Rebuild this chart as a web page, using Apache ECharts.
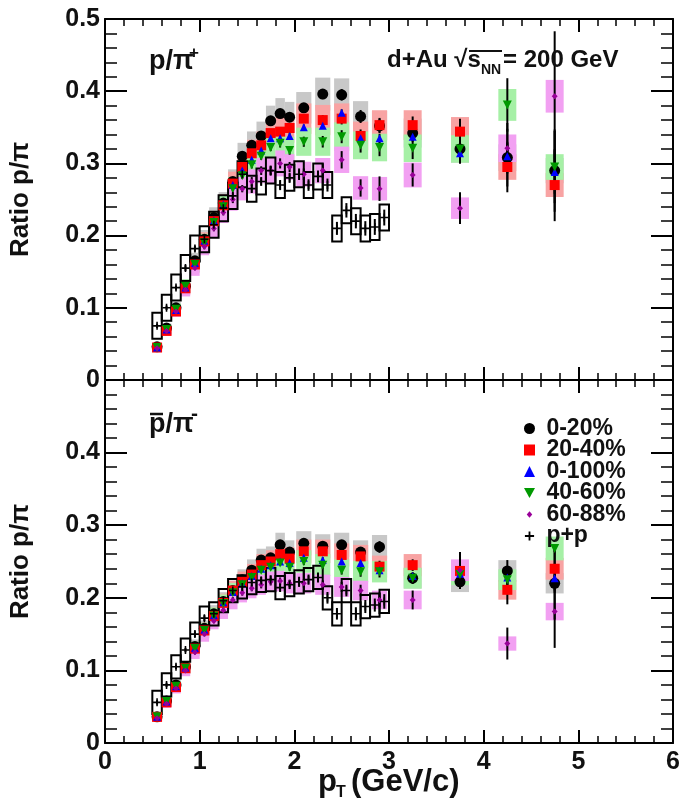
<!DOCTYPE html>
<html><head><meta charset="utf-8">
<script src="https://cdn.jsdelivr.net/npm/echarts@6.0.0/dist/echarts.min.js"></script>
<style>html,body{margin:0;padding:0;background:#fff}#c{width:685px;height:807px}</style>
</head><body><div id="c"></div>
<script>
// ---------------- data ----------------
const ptDAu = [0.55,0.65,0.75,0.85,0.95,1.05,1.15,1.25,1.35,1.45,1.55,1.65,1.75,1.85,1.95,2.1,2.3,2.5,2.7,2.9,3.25,3.75,4.25,4.75];
const ptPP  = [0.55,0.65,0.75,0.85,0.95,1.05,1.15,1.25,1.35,1.45,1.55,1.65,1.75,1.85,1.95,2.05,2.15,2.25,2.35,2.45,2.55,2.65,2.75,2.85,2.95];

// top panel: p / pi+
const top020  = [0.046,0.072,0.100,0.130,0.165,0.195,0.225,0.245,0.275,0.310,0.325,0.338,0.359,0.369,0.364,0.377,0.396,0.395,0.365,0.352,0.342,0.320,0.308,0.290];
const top2040 = [0.045,0.068,0.095,0.127,0.160,0.192,0.220,0.242,0.272,0.295,0.314,0.325,0.342,0.344,0.349,0.362,0.360,0.362,0.338,0.353,0.353,0.344,0.295,0.270];
const top0100 = [0.045,0.070,0.097,0.128,0.162,0.193,0.221,0.243,0.270,0.290,0.305,0.318,0.335,0.335,0.338,0.350,0.352,0.370,0.335,0.335,0.337,0.314,0.310,0.288];
const top4060 = [0.045,0.070,0.098,0.130,0.160,0.190,0.218,0.240,0.265,0.283,0.298,0.310,0.322,0.328,0.318,0.330,0.330,0.337,0.325,0.322,0.321,0.320,0.381,0.295];
const top6088 = [0.044,0.068,0.095,0.125,0.155,0.185,0.210,0.232,0.250,0.265,0.275,0.290,0.290,0.300,0.295,0.285,0.290,0.305,0.266,0.265,0.284,0.238,0.321,0.393];
const topPP   = [0.075,0.100,0.128,0.155,0.182,0.195,0.215,0.238,0.255,0.285,0.265,0.275,0.290,0.270,0.280,0.285,0.270,0.282,0.270,0.210,0.235,0.220,0.210,0.212,0.225];

const topE020  = [0.002,0.002,0.002,0.002,0.003,0.003,0.003,0.003,0.004,0.004,0.004,0.005,0.005,0.005,0.006,0.006,0.007,0.008,0.009,0.010,0.012,0.020,0.040,0.057];
const topE2040 = [0.002,0.002,0.002,0.002,0.003,0.003,0.003,0.003,0.004,0.004,0.004,0.005,0.005,0.005,0.006,0.006,0.007,0.008,0.009,0.010,0.012,0.018,0.035,0.050];
const topE0100 = [0.001,0.001,0.001,0.001,0.002,0.002,0.002,0.002,0.002,0.003,0.003,0.003,0.003,0.003,0.004,0.004,0.004,0.005,0.005,0.006,0.006,0.010,0.018,0.030];
const topE4060 = [0.002,0.002,0.002,0.002,0.003,0.003,0.003,0.003,0.004,0.004,0.005,0.005,0.005,0.006,0.006,0.007,0.008,0.009,0.010,0.012,0.015,0.020,0.037,0.050];
const topE6088 = [0.002,0.002,0.003,0.003,0.003,0.004,0.004,0.004,0.005,0.005,0.006,0.006,0.006,0.007,0.007,0.008,0.010,0.012,0.012,0.017,0.016,0.022,0.035,0.090];
const topEPP   = [0.003,0.003,0.003,0.004,0.004,0.004,0.005,0.005,0.005,0.006,0.006,0.006,0.007,0.007,0.007,0.008,0.008,0.008,0.009,0.009,0.010,0.010,0.010,0.011,0.011];

// bottom panel: pbar / pi-
const bot020  = [0.036,0.058,0.080,0.105,0.133,0.158,0.178,0.195,0.210,0.225,0.238,0.252,0.255,0.273,0.263,0.275,0.271,0.273,0.263,0.270,0.227,0.222,0.237,0.220];
const bot2040 = [0.036,0.056,0.077,0.103,0.130,0.155,0.175,0.193,0.210,0.222,0.232,0.245,0.250,0.260,0.254,0.264,0.264,0.259,0.257,0.243,0.245,0.237,0.211,0.240];
const bot0100 = [0.036,0.057,0.078,0.104,0.131,0.156,0.176,0.194,0.208,0.220,0.230,0.240,0.245,0.250,0.248,0.255,0.252,0.250,0.248,0.238,0.230,0.233,0.228,0.227];
const bot4060 = [0.036,0.057,0.078,0.103,0.130,0.155,0.175,0.192,0.207,0.218,0.228,0.238,0.242,0.248,0.242,0.250,0.245,0.238,0.236,0.236,0.227,0.232,0.225,0.268];
const bot6088 = [0.034,0.054,0.075,0.100,0.125,0.150,0.168,0.183,0.197,0.207,0.213,0.218,0.222,0.223,0.220,0.220,0.218,0.215,0.210,0.197,0.197,0.238,0.137,0.181];
const botPP   = [0.056,0.080,0.105,0.128,0.150,0.172,0.178,0.196,0.210,0.215,0.221,0.224,0.225,0.214,0.218,0.222,0.225,0.228,0.200,0.178,0.210,0.178,0.188,0.190,0.195];

const botE020  = [0.002,0.002,0.002,0.002,0.002,0.002,0.003,0.003,0.003,0.003,0.004,0.004,0.004,0.004,0.005,0.005,0.005,0.006,0.007,0.008,0.007,0.010,0.015,0.050];
const botE2040 = [0.002,0.002,0.002,0.002,0.002,0.002,0.003,0.003,0.003,0.003,0.004,0.004,0.004,0.004,0.005,0.005,0.005,0.006,0.007,0.008,0.008,0.012,0.020,0.030];
const botE0100 = [0.001,0.001,0.001,0.001,0.001,0.002,0.002,0.002,0.002,0.002,0.002,0.003,0.003,0.003,0.003,0.003,0.004,0.004,0.004,0.005,0.005,0.008,0.012,0.020];
const botE4060 = [0.002,0.002,0.002,0.002,0.002,0.002,0.003,0.003,0.003,0.003,0.004,0.004,0.004,0.004,0.005,0.005,0.005,0.006,0.007,0.008,0.008,0.010,0.012,0.005];
const botE6088 = [0.002,0.002,0.002,0.003,0.003,0.003,0.003,0.004,0.004,0.004,0.004,0.005,0.005,0.005,0.005,0.006,0.006,0.007,0.008,0.010,0.013,0.025,0.022,0.050];
const botEPP   = [0.003,0.003,0.003,0.003,0.004,0.004,0.004,0.004,0.005,0.005,0.005,0.005,0.006,0.006,0.006,0.007,0.007,0.007,0.008,0.008,0.008,0.009,0.009,0.009,0.010];

const legendNames = ['0-20%','20-40%','0-100%','40-60%','60-88%','p+p'];
const yTicks = [0, 0.1, 0.2, 0.3, 0.4, 0.5];
const xTicks = [0, 1, 2, 3, 4, 5, 6];

// ---------------- styling ----------------
const FONT = "'Liberation Sans', Arial, sans-serif";
const INV_TRI = 'path://M0,0 L10,0 L5,9 Z';
const CROSS = 'path://M4,0 L6,0 L6,4 L10,4 L10,6 L6,6 L6,10 L4,10 L4,6 L0,6 L0,4 L4,4 Z';
const DIAMOND_LEG = 'path://M0,0 M12,12 M6,2.5 L9,6 L6,9.5 L3,6 Z';
const CROSS_LEG = 'path://M0,0 M12,12 M5,1 L7,1 L7,5 L11,5 L11,7 L7,7 L7,11 L5,11 L5,7 L1,7 L1,5 L5,5 Z';

const SER = [
  {name: legendNames[0], top: top020,  bot: bot020,  tE: topE020,  bE: botE020,  sym: 'circle',  size: 11, color: '#000000', box: '#c8c8c8', leg: 'circle'},
  {name: legendNames[1], top: top2040, bot: bot2040, tE: topE2040, bE: botE2040, sym: 'rect',    size: 10, color: '#ff0000', box: '#f8a3a3', leg: 'rect'},
  {name: legendNames[2], top: top0100, bot: bot0100, tE: topE0100, bE: botE0100, sym: 'triangle',size: 8,  color: '#0000ff', box: null,      leg: 'triangle'},
  {name: legendNames[3], top: top4060, bot: bot4060, tE: topE4060, bE: botE4060, sym: INV_TRI,   size: 9,  color: '#009900', box: '#a6f0a6', leg: INV_TRI},
  {name: legendNames[4], top: top6088, bot: bot6088, tE: topE6088, bE: botE6088, sym: 'diamond', size: 6,  color: '#990099', box: '#f2a0f2', leg: DIAMOND_LEG}
];

function halfW(x) { return x < 2 ? 0.05 : (x < 3 ? 0.08 : 0.095); }

function boxSeries(xs, ys, sysFn, hwFn, fill, stroke, xi, yi, z) {
  return {
    type: 'custom', xAxisIndex: xi, yAxisIndex: yi, z: z, silent: true, clip: true,
    encode: {x: 0, y: 1},
    data: xs.map((x, i) => [x, ys[i], sysFn(ys[i]), hwFn(x)]),
    renderItem: function (p, api) {
      const x = api.value(0), y = api.value(1), s = api.value(2), hw = api.value(3);
      const a = api.coord([x - hw, y + s]);
      const b = api.coord([x + hw, y - s]);
      return {type: 'rect', shape: {x: a[0], y: a[1], width: b[0] - a[0], height: b[1] - a[1]},
        style: stroke ? {fill: 'none', stroke: stroke, lineWidth: 2} : {fill: fill}};
    }
  };
}
function errSeries(xs, ys, es, xi, yi, z) {
  return {
    type: 'custom', xAxisIndex: xi, yAxisIndex: yi, z: z, silent: true,
    encode: {x: 0, y: 1},
    data: xs.map((x, i) => [x, ys[i], es[i]]),
    renderItem: function (p, api) {
      const x = api.value(0), y = api.value(1), e = api.value(2);
      const a = api.coord([x, y - e]);
      const b = api.coord([x, y + e]);
      return {type: 'line', shape: {x1: a[0], y1: a[1], x2: b[0], y2: b[1]},
        style: {stroke: '#000', lineWidth: 2}};
    }
  };
}
function markSeries(name, xs, ys, sym, size, color, xi, yi, z) {
  return {
    type: 'scatter', name: name, xAxisIndex: xi, yAxisIndex: yi, z: z, silent: true,
    symbol: sym, symbolSize: size, itemStyle: {color: color, opacity: 1},
    data: xs.map((x, i) => [x, ys[i]])
  };
}

const series = [];
[0, 1].forEach(function (panel) {
  const xi = panel * 2, yi = panel * 2;
  const key = panel === 0 ? 'top' : 'bot';
  const ekey = panel === 0 ? 'tE' : 'bE';
  const pp = panel === 0 ? topPP : botPP;
  const ppE = panel === 0 ? topEPP : botEPP;
  const ppSys = panel === 0 ? 0.018 : 0.016;
  SER.forEach(function (s, k) {
    if (s.box) series.push(boxSeries(ptDAu, s[key], v => 0.05 * v + 0.003, halfW, s.box, null, xi, yi, 1 + k * 0.01));
  });
  series.push(boxSeries(ptPP, pp, v => ppSys, x => 0.05, null, '#000', xi, yi, 2));
  SER.forEach(function (s) { series.push(errSeries(ptDAu, s[key], s[ekey], xi, yi, 3)); });
  series.push(errSeries(ptPP, pp, ppE, xi, yi, 3));
  SER.forEach(function (s, k) {
    series.push(markSeries(s.name, ptDAu, s[key], s.sym, s.size, s.color, xi, yi, 4 + k * 0.01));
  });
  series.push(markSeries(legendNames[5], ptPP, pp, CROSS, 8, '#000', xi, yi, 4.1));
});

function xAx(gi, pos, labels) {
  return {
    type: 'value', gridIndex: gi, position: pos, min: xTicks[0], max: xTicks[xTicks.length - 1], interval: 1,
    axisLine: {show: true, onZero: false, lineStyle: {color: '#000', width: 2}},
    axisTick: {show: true, inside: true, length: 13, lineStyle: {color: '#000', width: 2}},
    minorTick: {show: true, splitNumber: 5, length: 7, lineStyle: {color: '#000', width: 1.5}},
    splitLine: {show: false}, minorSplitLine: {show: false},
    axisLabel: {show: labels, margin: 7, color: '#111', fontSize: 25, fontWeight: 'bold', fontFamily: FONT,
      showMinLabel: true, showMaxLabel: true}
  };
}
function yAx(gi, pos, labels, hideTop) {
  return {
    type: 'value', gridIndex: gi, position: pos, min: yTicks[0], max: yTicks[yTicks.length - 1], interval: 0.1,
    axisLine: {show: true, onZero: false, lineStyle: {color: '#000', width: 2}},
    axisTick: {show: true, inside: true, length: 22, lineStyle: {color: '#000', width: 2}},
    minorTick: {show: true, splitNumber: 5, length: 12, lineStyle: {color: '#000', width: 1.5}},
    splitLine: {show: false}, minorSplitLine: {show: false},
    name: labels ? 'Ratio p/π' : '', nameLocation: 'middle', nameGap: 71, nameRotate: 90,
    nameTextStyle: {fontSize: 26, fontWeight: 'bold', color: '#111', fontFamily: FONT},
    axisLabel: {show: labels, margin: 5, color: '#111', fontSize: 25, fontWeight: 'bold', fontFamily: FONT,
      showMinLabel: true, showMaxLabel: true,
      formatter: function (v) { if (hideTop && v > 0.45) return ''; return v === 0 ? '0' : v.toFixed(1); }}
  };
}

const T = (x, y, text, size, extra) => Object.assign({type: 'text', x: x, y: y, z: 50,
  style: {text: text, fontSize: size, fontWeight: 'bold', fontFamily: FONT, fill: '#111', textAlign: 'left', textVerticalAlign: 'top'}}, extra || {});

const option = {
  animation: false,
  backgroundColor: '#fff',
  grid: [
    {left: 103, right: 12, top: 19, height: 361, containLabel: false},
    {left: 103, right: 12, top: 380, height: 363, containLabel: false}
  ],
  xAxis: [xAx(0, 'bottom', false), xAx(0, 'top', false), xAx(1, 'bottom', true), xAx(1, 'top', false)],
  yAxis: [yAx(0, 'left', true, false), yAx(0, 'right', false, false), yAx(1, 'left', true, true), yAx(1, 'right', false, false)],
  legend: {
    orient: 'vertical', left: 519, top: 412, itemWidth: 11, itemHeight: 11, itemGap: -1.5,
    selectedMode: false,
    formatter: function (n) { return ' ' + n; },
    textStyle: {fontSize: 23, fontWeight: 'bold', color: '#111', fontFamily: FONT, lineHeight: 21},
    data: SER.map(s => ({name: s.name, icon: s.leg})).concat([{name: legendNames[5], icon: CROSS_LEG}])
  },
  graphic: [
    // top panel label p/pi+
    T(149, 48, 'p/π', 27),
    T(189, 45, '+', 17),
    // d+Au sqrt(s_NN) = 200 GeV
    T(387, 48, 'd+Au √s', 24),
    T(481, 63, 'NN', 14),
    T(503, 48, '= 200 GeV', 24),
    {type: 'line', z: 50, shape: {x1: 469, y1: 51, x2: 502, y2: 51}, style: {stroke: '#111', lineWidth: 2}},
    // bottom panel label pbar/pi-
    T(149, 411, 'p/π', 27),
    T(191, 404, '-', 21),
    {type: 'line', z: 50, shape: {x1: 150, y1: 414, x2: 163, y2: 414}, style: {stroke: '#111', lineWidth: 2.5}},
    // x axis title
    T(318, 767, 'p', 31),
    T(336, 785, 'T', 16),
    T(351, 767, '(GeV/c)', 31)
  ],
  series: series
};

const chart = echarts.init(document.getElementById('c'), null, {renderer: 'canvas'});
chart.setOption(option);
</script></body></html>
